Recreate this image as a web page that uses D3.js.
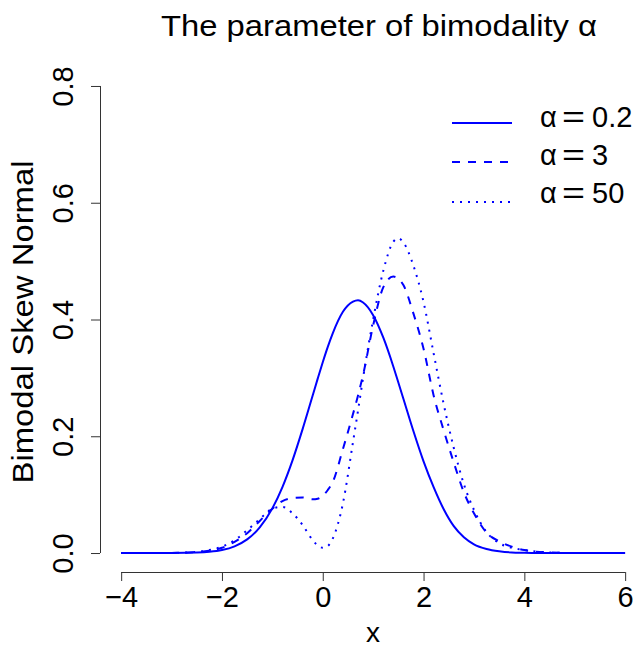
<!DOCTYPE html>
<html>
<head>
<meta charset="utf-8">
<script src="https://cdn.jsdelivr.net/npm/d3@7"></script>
<style>
  html, body { margin: 0; padding: 0; background: #fff; }
  svg { display: block; }
  text { font-family: "Liberation Sans", Arial, Helvetica, sans-serif; fill: #000; }
</style>
</head>
<body>
<svg id="chart" width="641" height="648"></svg>
<script>
// ---- data ----
const xGrid = [-4, -3.5, -3, -2.5, -2.25, -2, -1.75, -1.5, -1.25, -1, -0.8, -0.6, -0.4, -0.2, -0.1, 0, 0.1, 0.2, 0.4, 0.6, 0.7, 0.8, 1.0, 1.2, 1.4, 1.5, 1.6, 1.8, 2.0, 2.2, 2.4, 2.6, 2.8, 3.0, 3.25, 3.5, 3.75, 4.0, 4.5, 5, 5.5, 6];
const alpha02 = [0, 0, 0.0001, 0.0009, 0.0022, 0.0052, 0.0115, 0.0233, 0.0439, 0.0765, 0.113, 0.1587, 0.2122, 0.2698, 0.2987, 0.3268, 0.3531, 0.3767, 0.4132, 0.4306, 0.433, 0.4291, 0.4074, 0.3693, 0.3196, 0.292, 0.2642, 0.2085, 0.1570, 0.1129, 0.075, 0.046, 0.027, 0.015, 0.007, 0.003, 0.001, 0.0005, 0, 0, 0, 0];
const alpha3 = [0, 0, 0.0002, 0.0015, 0.004, 0.009, 0.019, 0.034, 0.055, 0.076, 0.089, 0.094, 0.095, 0.092, 0.093, 0.098, 0.108, 0.122, 0.178, 0.238, 0.270, 0.305, 0.390, 0.455, 0.4735, 0.470, 0.459, 0.410, 0.350, 0.270, 0.210, 0.155, 0.104, 0.068, 0.035, 0.020, 0.011, 0.005, 0.001, 0, 0, 0];
const alpha50 = [0, 0, 0.0002, 0.002, 0.005, 0.011, 0.022, 0.039, 0.058, 0.076, 0.079, 0.068, 0.048, 0.022, 0.013, 0.009, 0.012, 0.025, 0.085, 0.190, 0.244, 0.300, 0.400, 0.483, 0.533, 0.539, 0.532, 0.492, 0.430, 0.342, 0.255, 0.180, 0.118, 0.074, 0.036, 0.017, 0.009, 0.005, 0.001, 0, 0, 0];
const alphaValues = ["0.2", "3", "50"];
const xTicks = [-4, -2, 0, 2, 4, 6];
const yTicks = [0.0, 0.2, 0.4, 0.6, 0.8];
const titleText = "The parameter of bimodality α";
const xTitle = "x";
const yTitle = "Bimodal Skew Normal";

// ---- drawing ----
const svg = d3.select("#chart");
const x = d3.scaleLinear().domain([-4.4, 6.4]).range([101, 645.3]);
const y = d3.scaleLinear().domain([-0.032, 0.832]).range([571.7, 67.3]);

const series = [
  { vals: alpha02, dash: null, value: alphaValues[0] },
  { vals: alpha3, dash: "8,8", value: alphaValues[1] },
  { vals: alpha50, dash: "2,6", value: alphaValues[2] }
];

const line = d3.line()
  .x(d => x(d[0]))
  .y(d => y(d[1]))
  .curve(d3.curveMonotoneX);

series.forEach(s => {
  svg.append("path")
    .attr("d", line(xGrid.map((xv, i) => [xv, s.vals[i]])))
    .attr("fill", "none")
    .attr("stroke", "#0000ff")
    .attr("stroke-width", 2)
    .attr("stroke-dasharray", s.dash);
});

// x axis
const gx = svg.append("g").attr("transform", "translate(0,572)")
  .call(d3.axisBottom(x).tickValues(xTicks).tickSize(9).tickSizeOuter(0).tickPadding(5)
    .tickFormat(d3.format("d")));
gx.select(".domain").remove();
gx.append("line").attr("x1", x(xTicks[0])).attr("x2", x(xTicks[xTicks.length - 1]))
  .attr("y1", 0.5).attr("y2", 0.5).attr("stroke", "#333");
gx.selectAll(".tick line").attr("stroke", "#333");
gx.selectAll(".tick text").attr("font-size", 29).attr("font-family", "Liberation Sans, Arial, sans-serif").attr("fill", "#000");

// y axis
const gy = svg.append("g").attr("transform", "translate(100,0)")
  .call(d3.axisLeft(y).tickValues(yTicks).tickSize(9).tickSizeOuter(0).tickFormat(d3.format(".1f")));
gy.select(".domain").remove();
gy.append("line").attr("x1", 0.5).attr("x2", 0.5)
  .attr("y1", y(yTicks[0])).attr("y2", y(yTicks[yTicks.length - 1])).attr("stroke", "#333");
gy.selectAll(".tick line").attr("stroke", "#333");
gy.selectAll(".tick text")
  .attr("font-size", 29).attr("font-family", "Liberation Sans, Arial, sans-serif").attr("fill", "#000")
  .attr("x", null).attr("dy", null)
  .attr("text-anchor", "middle")
  .attr("transform", "translate(-27,0) rotate(-90)");

// titles
svg.append("text").attr("x", 379).attr("y", 36).attr("text-anchor", "middle")
  .attr("font-size", 30).attr("textLength", 436).attr("lengthAdjust", "spacingAndGlyphs").text(titleText);
svg.append("text").attr("x", 373).attr("y", 642).attr("text-anchor", "middle")
  .attr("font-size", 28).text(xTitle);
svg.append("text").attr("transform", "translate(33,322) rotate(-90)").attr("text-anchor", "middle")
  .attr("font-size", 29).attr("textLength", 323).attr("lengthAdjust", "spacingAndGlyphs").text(yTitle);

// legend
const legLineY = [123, 162, 202];
const legTextY = [127, 165, 203];
series.forEach((s, i) => {
  svg.append("line").attr("x1", 452).attr("x2", 512).attr("y1", legLineY[i]).attr("y2", legLineY[i])
    .attr("stroke", "#0000ff").attr("stroke-width", 2).attr("stroke-dasharray", s.dash);
  const t = svg.append("text").attr("y", legTextY[i]).attr("font-size", 29);
  t.append("tspan").attr("x", 540).text("α");
  t.append("tspan").attr("x", 562).attr("textLength", 23).attr("lengthAdjust", "spacingAndGlyphs").text("=");
  t.append("tspan").attr("x", 592).text(s.value);
});
</script>
</body>
</html>
